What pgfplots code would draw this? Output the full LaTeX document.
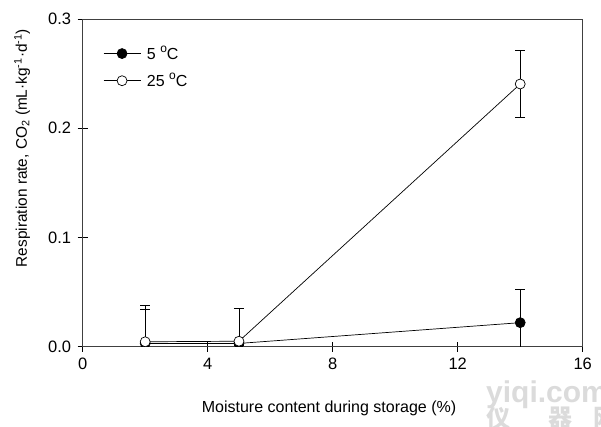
\documentclass[border=0pt]{standalone}
\usepackage{fontspec}
\setmainfont{Liberation Sans}
\newfontfamily\cjk{Noto Sans CJK SC}
\usepackage{pgfplots}
\pgfplotsset{compat=1.18}
\newcommand{\degsup}{\raisebox{0.45em}{\fontsize{12}{12}\selectfont o}}
\begin{document}
\begin{tikzpicture}
\begin{axis}[
  name=ax, at={(0pt,0pt)}, anchor=south west, scale only axis,
  width=500pt, height=327.7pt,
  xmin=0, xmax=16, ymin=0, ymax=0.3,
  xtick={0,4,8,12,16}, ytick={0,0.1,0.2,0.3},
  yticklabel style={xshift=-3pt, /pgf/number format/.cd,fixed,fixed zerofill,precision=1},
  /pgf/number format/assume math mode=true,
  xtick pos=bottom, ytick pos=left,
  tick align=center, major tick length=10pt,
  axis line style={black!75, line width=0.8pt},
  tick style={black, line width=0.8pt},
  tick label style={font=\fontsize{16.5}{19}\selectfont},
  xticklabel style={yshift=-3pt},
  label style={font=\fontsize{16}{19}\selectfont},
  xlabel={Moisture content during storage (\%)},
  ylabel={Respiration rate, CO\textsubscript{2} (mL·kg\textsuperscript{-1}·d\textsuperscript{-1})},
  xlabel style={at={(axis description cs:0.4926,-0.187)}, anchor=center},
  ylabel style={at={(axis description cs:-0.121,0.606)}, anchor=center, font=\fontsize{15.4}{18}\selectfont},
  clip marker paths=true,
  legend style={at={(axis cs:0.65,0.2773)}, anchor=north west, draw=none, fill=none,
    inner sep=0pt, font=\fontsize{16}{19}\selectfont, row sep=8pt, cells={anchor=west}},
  legend image code/.code={\draw[mark repeat=2,mark phase=2,#1] plot coordinates {(0pt,0pt) (18.5pt,0pt) (37pt,0pt)};},
  legend cell align=left,
]
\addplot[black, line width=0.7pt, mark=*, mark size=5pt, mark options={fill=black, solid},
  error bars/.cd, y dir=both, y explicit, error mark options={rotate=90, mark size=5pt, line width=0.8pt},
  error bar style={line width=0.8pt}]
  coordinates {(2,0.003) +- (0,0.031) (5,0.003) +- (0,0.002) (14,0.022) +- (0,0.030)};
\addlegendentry{\hspace{4pt}5 \degsup C}
\addplot[black, line width=0.7pt, mark=*, mark size=5pt, mark options={fill=white, solid},
  error bars/.cd, y dir=both, y explicit, error mark options={rotate=90, mark size=5pt, line width=0.8pt},
  error bar style={line width=0.8pt}]
  coordinates {(2,0.0045) +- (0,0.033) (5,0.005) +- (0,0.030) (14,0.2405) +- (0,0.0305)};
\addlegendentry{\hspace{4pt}25 \degsup C}
\end{axis}
\coordinate (O) at ([shift={(-82.7pt,-80.3pt)}]ax.south west);
\node[anchor=north west, inner sep=0pt, text=gray!28, font=\bfseries\fontsize{30}{30}\selectfont] at ([shift={(486pt,46pt)}]O) {yiqi.com};
\node[anchor=center, inner sep=0pt, text=gray!28, font=\cjk\bfseries\fontsize{24}{24}\selectfont] at ([shift={(498pt,9pt)}]O) {仪};
\node[anchor=center, inner sep=0pt, text=gray!28, font=\cjk\bfseries\fontsize{24}{24}\selectfont] at ([shift={(560pt,9pt)}]O) {器};
\node[anchor=center, inner sep=0pt, text=gray!28, font=\cjk\bfseries\fontsize{24}{24}\selectfont] at ([shift={(605pt,9pt)}]O) {网};
\pgfresetboundingbox
\path (O) rectangle ([shift={(601pt,427pt)}]O);
\end{tikzpicture}
\end{document}
